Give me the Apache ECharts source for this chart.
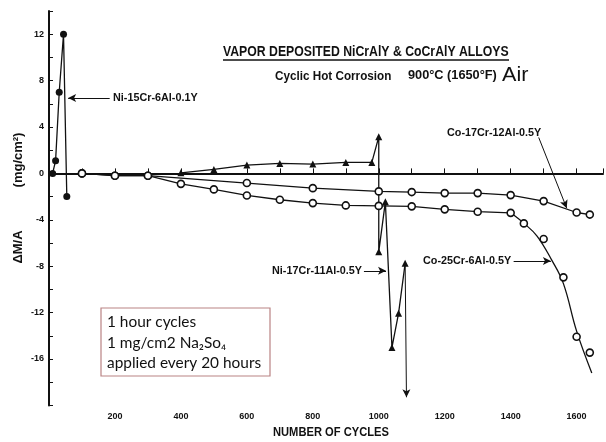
<!DOCTYPE html>
<html>
<head>
<meta charset="utf-8">
<script src="https://cdn.jsdelivr.net/npm/echarts@6/dist/echarts.min.js"></script>
<style>
  html, body { margin: 0; padding: 0; background: #fff; }
  #chart { width: 606px; height: 442px; }
</style>
</head>
<body>
<div id="chart"></div>
<script>
// Ni-15Cr-6Al-0.1Y (filled circles)
const ni15Cycles = [11, 20, 31, 44, 54];
const ni15Values = [0, 1.1, 7, 12, -2];

// Ni-17Cr-11Al-0.5Y (filled triangles)
const ni17Cycles = [400, 500, 600, 700, 800, 900, 979, 1000, 1000, 1020, 1040, 1060, 1080];
const ni17Values = [0.05, 0.34, 0.72, 0.86, 0.8, 0.95, 0.95, 3.15, -6.75, -2.45, -15.0, -12.06, -7.75];
// specimen failed: drop-off arrow below the axis
const ni17FailCycle = 1084;
const ni17FailValue = -19.3;

// Co-17Cr-12Al-0.5Y (open circles, upper curve)
const co17Cycles = [100, 200, 300, 600, 800, 1000, 1100, 1200, 1300, 1400, 1500, 1600, 1640];
const co17Values = [0, -0.2, -0.2, -0.83, -1.27, -1.55, -1.61, -1.7, -1.7, -1.87, -2.39, -3.37, -3.55];

// Co-25Cr-6Al-0.5Y (open circles, lower curve)
const co25Cycles = [100, 200, 300, 400, 500, 600, 700, 800, 900, 1000, 1100, 1200, 1300, 1400, 1440, 1500, 1560, 1600, 1640];
const co25Values = [0, -0.2, -0.2, -0.9, -1.38, -1.9, -2.27, -2.56, -2.76, -2.8, -2.84, -3.1, -3.3, -3.4, -4.31, -5.66, -8.96, -14.08, -15.45];
// hand-faired curve through the breakaway region
const co25FitCycles = [1400, 1440, 1480, 1525, 1560, 1600, 1646];
const co25FitValues = [-3.4, -4.3, -5.4, -7.5, -9.5, -13.6, -17.2];

// axis ticks
const xTickLabels = [200, 400, 600, 800, 1000, 1200, 1400, 1600];
const yTickLabels = [12, 8, 4, 0, -4, -8, -12, -16];

const pairs = (xs, ys) => xs.map((x, i) => [x, ys[i]]);

const INK = '#111';
const SANS = '"Liberation Sans", Arial, sans-serif';
const tickFont = { fontFamily: SANS, fontWeight: 'bold', fontSize: 9, color: INK };
const noteFont = 'bold 10px ' + SANS;

const chart = echarts.init(document.getElementById('chart'), null, { renderer: 'canvas' });

const arrowLine = (from, to) => ({
  type: 'line', data: [], silent: true,
  markLine: {
    silent: true, animation: false,
    symbol: ['none', 'arrow'], symbolSize: [6, 8],
    lineStyle: { color: INK, width: 1, type: 'solid' },
    label: { show: false },
    data: [[{ coord: from }, { coord: to }]]
  }
});

// condensed-looking text: horizontal scaling around the left edge
const text = (x, y, str, font, sx, extra) => Object.assign({
  type: 'text', x: x, y: y, scaleX: sx || 1, originX: 0, originY: 0,
  style: { text: str, font: font, fill: INK, verticalAlign: 'middle' }
}, extra || {});

chart.setOption({
  animation: false,
  backgroundColor: '#fff',
  grid: { left: 49, right: 1, top: 11, bottom: 36.6 },
  xAxis: {
    type: 'value', min: 0, max: 1680, interval: 200,
    axisLine: { lineStyle: { color: INK, width: 2 } },
    axisTick: { inside: true, length: 5, lineStyle: { color: INK } },
    minorTick: { show: true, splitNumber: 2, length: 5, lineStyle: { color: INK } },
    splitLine: { show: false },
    axisLabel: Object.assign({ margin: 7, formatter: v => xTickLabels.includes(v) ? String(v) : '' }, tickFont)
  },
  yAxis: {
    type: 'value', min: -20, max: 14, interval: 4,
    axisLine: { show: true, lineStyle: { color: INK, width: 2 } },
    axisTick: { inside: true, length: 4, lineStyle: { color: INK } },
    minorTick: { show: true, splitNumber: 2, length: 4, lineStyle: { color: INK } },
    splitLine: { show: false },
    axisLabel: Object.assign({ margin: 5, formatter: v => yTickLabels.includes(v) ? String(v) : '' }, tickFont)
  },
  series: [
    {
      name: 'Ni-15Cr-6Al-0.1Y', type: 'line', z: 5,
      data: pairs(ni15Cycles, ni15Values),
      symbol: 'circle', symbolSize: 7,
      itemStyle: { color: INK },
      lineStyle: { color: INK, width: 1.3 },
      markLine: {
        silent: true, symbol: 'none',
        lineStyle: { color: INK, width: 1.5, type: 'solid' },
        label: { show: false },
        data: [{ yAxis: 0 }]
      }
    },
    {
      name: 'Ni-17Cr-11Al-0.5Y', type: 'line', z: 4,
      data: pairs(ni17Cycles, ni17Values),
      symbol: 'triangle', symbolSize: 7,
      itemStyle: { color: INK },
      lineStyle: { color: INK, width: 1.3 }
    },
    arrowLine([ni17Cycles[ni17Cycles.length - 1], ni17Values[ni17Values.length - 1]], [ni17FailCycle, ni17FailValue]),
    {
      name: 'Co-17Cr-12Al-0.5Y', type: 'line', z: 6,
      data: pairs(co17Cycles, co17Values),
      symbol: 'circle', symbolSize: 7,
      itemStyle: { color: '#fff', borderColor: INK, borderWidth: 1.6 },
      lineStyle: { color: INK, width: 1.3 }
    },
    {
      name: 'Co-25Cr-6Al-0.5Y', type: 'line', z: 6,
      data: pairs(co25Cycles.slice(0, 14), co25Values.slice(0, 14)),
      symbol: 'none',
      lineStyle: { color: INK, width: 1.3 }
    },
    {
      name: 'Co-25Cr-6Al-0.5Y fit', type: 'line', z: 6, smooth: 0.4,
      data: pairs(co25FitCycles, co25FitValues),
      symbol: 'none',
      lineStyle: { color: INK, width: 1.3 }
    },
    {
      name: 'Co-25Cr-6Al-0.5Y points', type: 'scatter', z: 7,
      data: pairs(co25Cycles, co25Values),
      symbol: 'circle', symbolSize: 7,
      itemStyle: { color: '#fff', borderColor: INK, borderWidth: 1.6, opacity: 1 }
    },
    // callout leaders
    arrowLine([184, 6.5], [58, 6.5]),
    arrowLine([955, -8.4], [1022, -8.4]),
    arrowLine([1409, -7.55], [1522, -7.55]),
    arrowLine([1485, 3.1], [1570, -3.0])
  ],
  graphic: [
    // title
    text(223, 52, 'VAPOR DEPOSITED NiCrAlY & CoCrAlY ALLOYS', 'bold 14px ' + SANS, 0.875),
    { type: 'line', shape: { x1: 223, y1: 60, x2: 509, y2: 60 }, style: { stroke: INK, lineWidth: 1.4 } },
    text(275, 76, 'Cyclic Hot Corrosion', 'bold 13px ' + SANS, 0.9),
    text(408, 75, '900°C (1650°F)', 'bold 13px ' + SANS, 0.98),
    text(502, 75, 'Air', '20px ' + SANS, 1.08),
    // y axis title
    { type: 'text', x: 18, y: 247, rotation: Math.PI / 2, style: { text: 'ΔM/A', font: 'bold 13px ' + SANS, fill: INK, align: 'center', verticalAlign: 'middle' } },
    { type: 'text', x: 18, y: 160, rotation: Math.PI / 2, style: { text: '(mg/cm²)', font: 'bold 13px ' + SANS, fill: INK, align: 'center', verticalAlign: 'middle' } },
    // x axis title
    text(273, 433, 'NUMBER OF CYCLES', 'bold 12px ' + SANS, 0.93),
    // series callouts
    text(113, 98, 'Ni-15Cr-6Al-0.1Y', noteFont, 1.08),
    text(272, 271, 'Ni-17Cr-11Al-0.5Y', noteFont, 1.08),
    text(423, 261, 'Co-25Cr-6Al-0.5Y', noteFont, 1.08),
    text(447, 133, 'Co-17Cr-12Al-0.5Y', noteFont, 1.08),
    // test conditions box
    { type: 'rect', shape: { x: 101, y: 308, width: 169, height: 68 }, style: { fill: '#fff', stroke: '#b98384', lineWidth: 1.2 }, z: 10 },
    { type: 'text', left: 107, top: 312, z: 11, style: { text: '1 hour cycles\n1 mg/cm2 Na₂So₄\napplied every 20 hours', font: '15.4px Lato, "Open Sans", sans-serif', lineHeight: 20.5, fill: INK } }
  ]
});
</script>
</body>
</html>
